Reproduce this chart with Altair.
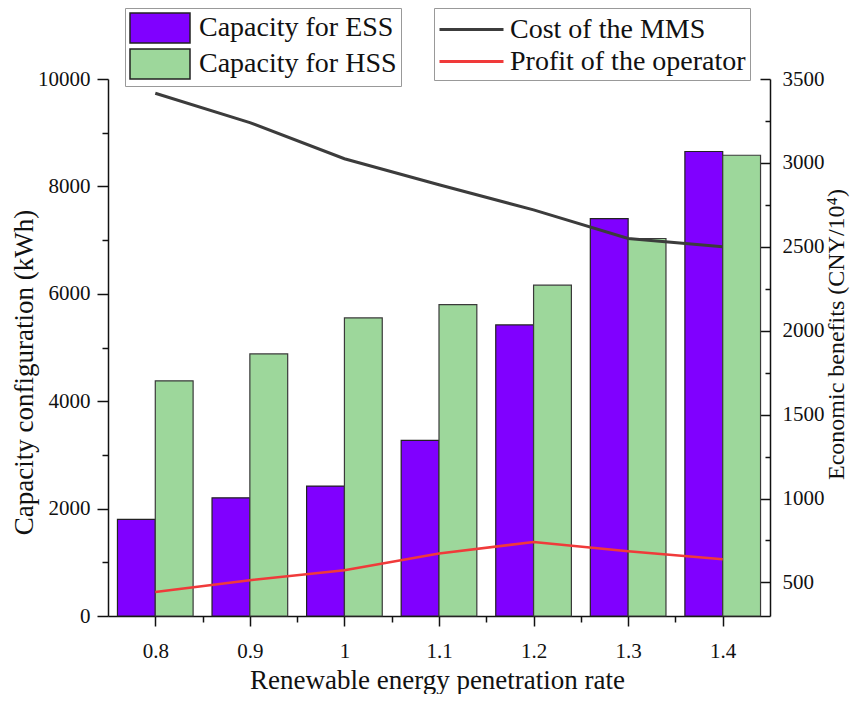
import altair as alt
import pandas as pd

# ---- data ----
rates = [0.8, 0.9, 1.0, 1.1, 1.2, 1.3, 1.4]
ess_capacity = [1800, 2200, 2420, 3270, 5420, 7400, 8650]
hss_capacity = [4380, 4880, 5550, 5800, 6160, 7030, 8580]
mms_cost = [3415, 3240, 3025, 2870, 2720, 2550, 2500]
operator_profit = [443, 513, 573, 672, 741, 686, 638]

bar_series = ["Capacity for ESS", "Capacity for HSS"]
line_series = ["Cost of  the MMS", "Profit of the operator"]

x_ticks = [0.8, 0.9, 1.0, 1.1, 1.2, 1.3, 1.4]
x_minor = [0.85, 0.95, 1.05, 1.15, 1.25, 1.35]
left_ticks = [0, 2000, 4000, 6000, 8000, 10000]
left_minor = [1000, 3000, 5000, 7000, 9000]
right_ticks = [500, 1000, 1500, 2000, 2500, 3000, 3500]
right_minor = [750, 1250, 1750, 2250, 2750, 3250]

df = pd.DataFrame({
    "rate": rates,
    "ess": ess_capacity,
    "hss": hss_capacity,
    "cost": mms_cost,
    "profit": operator_profit,
})

BW = 0.04  # bar width in x units
FONT = "Liberation Serif"
INK = "#111111"

xs = alt.Scale(domain=[0.75, 1.45], nice=False, zero=False)
ys_left = alt.Scale(domain=[0, 10000], nice=False)
ys_right = alt.Scale(domain=[300, 3500], nice=False, zero=False)

fill_scale = alt.Scale(domain=bar_series, range=["#8000ff", "#9dd79b"])
stroke_scale = alt.Scale(domain=line_series, range=["#3c3c3c", "#f03a3a"])

x_axis_major = alt.Axis(
    orient="bottom", values=x_ticks, format="~g", tickSize=10, tickWidth=1.5,
    tickColor=INK, domainColor=INK, domainWidth=1.5, labelFontSize=21,
    labelPadding=14, title="Renewable energy penetration rate", titleFontSize=27,
    titleX=329, titleY=64, titleBaseline="middle", titleAlign="center", grid=False,
)
x_axis_minor = alt.Axis(
    orient="bottom", values=x_minor, tickSize=6, tickWidth=1.5, tickColor=INK,
    labels=False, domain=False, title=None, grid=False,
)
left_axis_major = alt.Axis(
    orient="left", values=left_ticks, format="d", tickSize=11, tickWidth=1.5,
    tickColor=INK, domainColor=INK, domainWidth=1.5, labelFontSize=21,
    labelPadding=7, title="Capacity configuration (kWh)", titleFontSize=27,
    titleX=-84, titleY=293, titleAngle=270, titleBaseline="middle",
    titleAlign="center", grid=False,
)
left_axis_minor = alt.Axis(
    orient="left", values=left_minor, tickSize=6, tickWidth=1.5, tickColor=INK,
    labels=False, domain=False, title=None, grid=False,
)
right_axis_main = alt.Axis(
    orient="right", values=right_ticks, format="d", ticks=False,
    domainColor=INK, domainWidth=1.5, labelFontSize=21, labelPadding=12,
    title="Economic benefits (CNY/10\u2074)", titleFontSize=24,
    titleX=66, titleY=255, titleAngle=270, titleBaseline="middle",
    titleAlign="center", grid=False,
)
right_axis_major_ticks = alt.Axis(
    orient="right", values=right_ticks, offset=-10, tickSize=10, tickWidth=1.5,
    tickColor=INK, labels=False, domain=False, title=None, grid=False,
)
right_axis_minor_ticks = alt.Axis(
    orient="right", values=right_minor, offset=-5, tickSize=5, tickWidth=1.5,
    tickColor=INK, labels=False, domain=False, title=None, grid=False,
)

bar_legend = alt.Legend(
    title=None, orient="none", legendX=17, legendY=-71,
    symbolType="M-1,-1H3V1H-1Z", symbolSize=900,
    symbolStrokeColor="#222222", symbolStrokeWidth=1.5, symbolOpacity=1,
    labelFont=FONT, labelFontSize=28, labelColor=INK, labelOffset=38,
    labelLimit=400, rowPadding=0, padding=4, strokeColor="#999999",
    fillColor="white",
)
line_legend = alt.Legend(
    title=None, orient="none", legendX=326, legendY=-71,
    symbolType="M-1,0H3", symbolSize=1024, symbolStrokeWidth=3,
    symbolFillColor="transparent",
    labelFont=FONT, labelFontSize=28, labelColor=INK, labelOffset=37,
    labelLimit=400, rowPadding=0, padding=4, strokeColor="#999999",
    fillColor="white",
)

base = alt.Chart(df)

ess = base.transform_calculate(
    series=f'"{bar_series[0]}"', x0=f"datum.rate - {BW}"
).mark_bar(stroke="#222222", strokeWidth=1.2).encode(
    x=alt.X("x0:Q", scale=xs, axis=x_axis_major),
    x2=alt.X2("rate"),
    y=alt.Y("ess:Q", scale=ys_left, axis=left_axis_major),
    y2=alt.datum(0),
    fill=alt.Fill("series:N", scale=fill_scale, legend=bar_legend),
)

hss = base.transform_calculate(
    series=f'"{bar_series[1]}"', x1=f"datum.rate + {BW}"
).mark_bar(stroke="#3a3a3a", strokeWidth=1.2).encode(
    x=alt.X("rate:Q", scale=xs, axis=x_axis_minor),
    x2=alt.X2("x1"),
    y=alt.Y("hss:Q", scale=ys_left, axis=left_axis_minor),
    y2=alt.datum(0),
    fill=alt.Fill("series:N", scale=fill_scale, legend=bar_legend),
)

cost = base.transform_calculate(
    series=f'"{line_series[0]}"'
).mark_line(strokeWidth=3).encode(
    x=alt.X("rate:Q", scale=xs, axis=None),
    y=alt.Y("cost:Q", scale=ys_right, axis=right_axis_main),
    stroke=alt.Stroke("series:N", scale=stroke_scale, legend=line_legend),
)

profit = base.transform_calculate(
    series=f'"{line_series[1]}"'
).mark_line(strokeWidth=2.5).encode(
    x=alt.X("rate:Q", scale=xs, axis=None),
    y=alt.Y("profit:Q", scale=ys_right, axis=right_axis_major_ticks),
    stroke=alt.Stroke("series:N", scale=stroke_scale, legend=line_legend),
)

ghost = base.mark_line(strokeOpacity=0).encode(
    x=alt.X("rate:Q", scale=xs, axis=None),
    y=alt.Y("profit:Q", scale=ys_right, axis=right_axis_minor_ticks),
)

chart = alt.layer(ess, hss, cost, profit, ghost).resolve_scale(
    y="independent"
).resolve_axis(
    x="independent", y="independent"
).properties(
    width=662, height=537,
    autosize=alt.AutoSizeParams(type="none"),
    padding={"left": 100, "top": 71, "right": 88, "bottom": 78},
).configure_view(
    stroke=None
).configure_axis(
    labelFont=FONT, titleFont=FONT, labelColor=INK, titleColor=INK,
    titleFontWeight="normal",
)

chart.save("out.html", embed_options={"renderer": "svg", "actions": False})
